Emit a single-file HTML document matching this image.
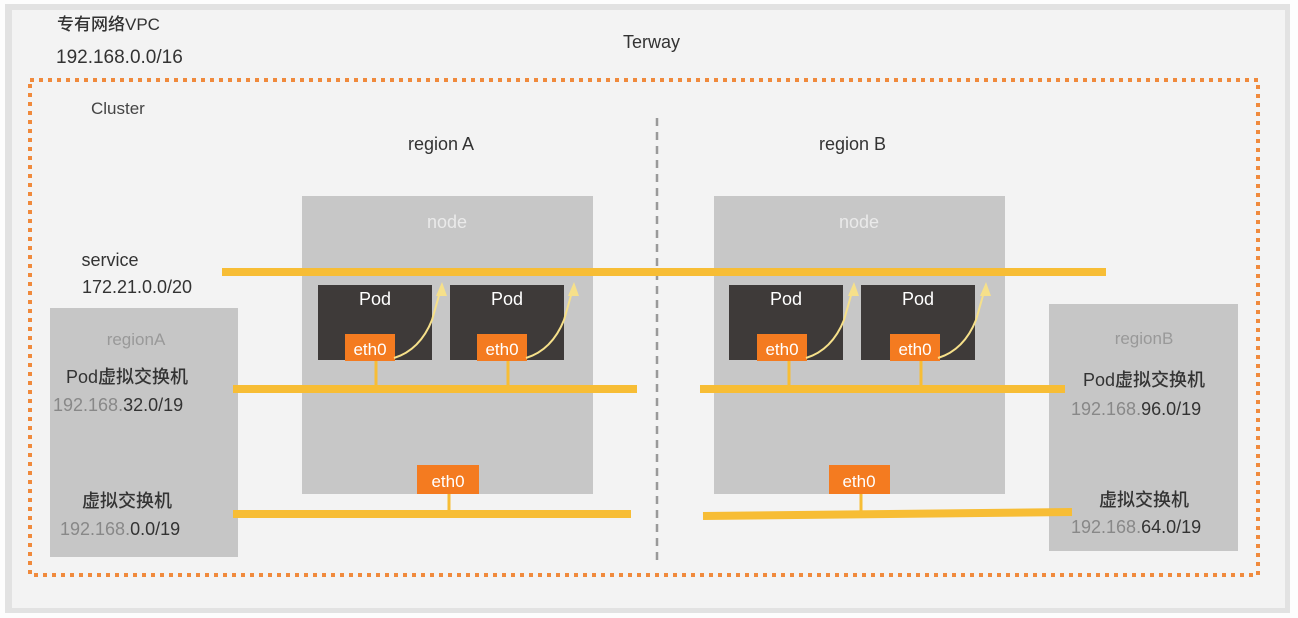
<!DOCTYPE html>
<html><head><meta charset="utf-8"><style>
html,body{margin:0;padding:0;background:#fff;}
svg{display:block;}
text{font-family:"Liberation Sans","Noto Sans CJK SC",sans-serif;font-weight:500;}
</style></head><body>
<svg width="1298" height="618" viewBox="0 0 1298 618" xmlns="http://www.w3.org/2000/svg">
<rect x="0" y="0" width="1298" height="618" fill="#fdfdfd"/>
<rect x="5" y="4" width="1285" height="609" fill="#e2e2e2"/>
<rect x="12" y="10" width="1273" height="598" fill="#f3f3f3"/>
<rect x="30" y="80" width="1228" height="495" fill="none" stroke="#f08a3c" stroke-width="4" stroke-dasharray="4,5"/>
<text x="57" y="30" font-size="17" fill="#333" font-weight="bold">专有网络VPC</text>
<text x="56" y="63" font-size="19" fill="#333">192.168.0.0/16</text>
<text x="623" y="48" font-size="18" fill="#333">Terway</text>
<text x="91" y="114" font-size="17" fill="#444">Cluster</text>
<text x="408" y="150" font-size="18" fill="#333">region A</text>
<text x="819" y="150" font-size="18" fill="#333">region B</text>
<line x1="657" y1="118" x2="657" y2="566" stroke="#999" stroke-width="2.5" stroke-dasharray="8,6"/>
<rect x="302" y="196" width="291" height="298" fill="#c7c7c7"/>
<rect x="714" y="196" width="291" height="298" fill="#c7c7c7"/>
<text x="447" y="228" font-size="18" fill="#eaeaea" text-anchor="middle">node</text>
<text x="859" y="228" font-size="18" fill="#eaeaea" text-anchor="middle">node</text>
<rect x="50" y="308" width="188" height="249" fill="#c6c6c6"/>
<rect x="1049" y="304" width="189" height="247" fill="#c6c6c6"/>
<text x="110" y="266" font-size="18" fill="#333" text-anchor="middle">service</text>
<text x="137" y="293" font-size="18" fill="#333" text-anchor="middle">172.21.0.0/20</text>
<text x="136" y="345" font-size="17" fill="#999" text-anchor="middle">regionA</text>
<text x="127" y="383" font-size="18" fill="#333" text-anchor="middle">Pod虚拟交换机</text>
<text x="53" y="411" font-size="18" fill="#888">192.168.<tspan fill="#333">32.0/19</tspan></text>
<text x="127" y="507" font-size="18" fill="#333" text-anchor="middle">虚拟交换机</text>
<text x="60" y="535" font-size="18" fill="#888">192.168.<tspan fill="#333">0.0/19</tspan></text>
<text x="1144" y="344" font-size="17" fill="#999" text-anchor="middle">regionB</text>
<text x="1144" y="386" font-size="18" fill="#333" text-anchor="middle">Pod虚拟交换机</text>
<text x="1071" y="415" font-size="18" fill="#888">192.168.<tspan fill="#333">96.0/19</tspan></text>
<text x="1144" y="506" font-size="18" fill="#333" text-anchor="middle">虚拟交换机</text>
<text x="1071" y="533" font-size="18" fill="#888">192.168.<tspan fill="#333">64.0/19</tspan></text>
<line x1="222" y1="272" x2="1106" y2="272" stroke="#f7bd35" stroke-width="8"/>
<g>
<rect x="318" y="285" width="114" height="75" fill="#3e3a39"/>
<rect x="450" y="285" width="114" height="75" fill="#3e3a39"/>
<rect x="729" y="285" width="114" height="75" fill="#3e3a39"/>
<rect x="861" y="285" width="114" height="75" fill="#3e3a39"/>
</g>
<text x="375" y="305" font-size="18" fill="#fff" text-anchor="middle">Pod</text>
<text x="507" y="305" font-size="18" fill="#fff" text-anchor="middle">Pod</text>
<text x="786" y="305" font-size="18" fill="#fff" text-anchor="middle">Pod</text>
<text x="918" y="305" font-size="18" fill="#fff" text-anchor="middle">Pod</text>
<g fill="#f47b20">
<rect x="345" y="334" width="50" height="27"/>
<rect x="477" y="334" width="50" height="27"/>
<rect x="757" y="334" width="50" height="27"/>
<rect x="890" y="334" width="50" height="27"/>
<rect x="417" y="465" width="62" height="29"/>
<rect x="829" y="465" width="61" height="29"/>
</g>
<g font-size="17" fill="#fff" text-anchor="middle">
<text x="370" y="355">eth0</text><text x="502" y="355">eth0</text>
<text x="782" y="355">eth0</text><text x="915" y="355">eth0</text>
<text x="448" y="487">eth0</text><text x="859" y="487">eth0</text>
</g>
<g fill="none" stroke="#f6e08a" stroke-width="2">
<path d="M394 358 Q420 350 432 320 L440 292"/>
<path d="M526 358 Q552 350 564 320 L572 292"/>
<path d="M806 358 Q832 350 844 320 L852 292"/>
<path d="M938 358 Q964 350 976 320 L984 292"/>
</g>
<g fill="#f6e08a">
<polygon points="442,282 436,296 447,296"/>
<polygon points="574,282 568,296 579,296"/>
<polygon points="854,282 848,296 859,296"/>
<polygon points="986,282 980,296 991,296"/>
</g>
<g stroke="#f7bd35" stroke-width="3">
<line x1="376" y1="361" x2="376" y2="388"/><line x1="508" y1="361" x2="508" y2="388"/>
<line x1="789" y1="361" x2="789" y2="388"/><line x1="921" y1="361" x2="921" y2="388"/>
<line x1="449" y1="494" x2="449" y2="513"/><line x1="861" y1="494" x2="861" y2="513"/>
</g>
<g stroke="#f7bd35" stroke-width="8">
<line x1="233" y1="389" x2="637" y2="389"/>
<line x1="700" y1="389" x2="1065" y2="389"/>
<line x1="233" y1="514" x2="631" y2="514"/>
<line x1="703" y1="516" x2="1072" y2="512"/>
</g>
</svg>
</body></html>
